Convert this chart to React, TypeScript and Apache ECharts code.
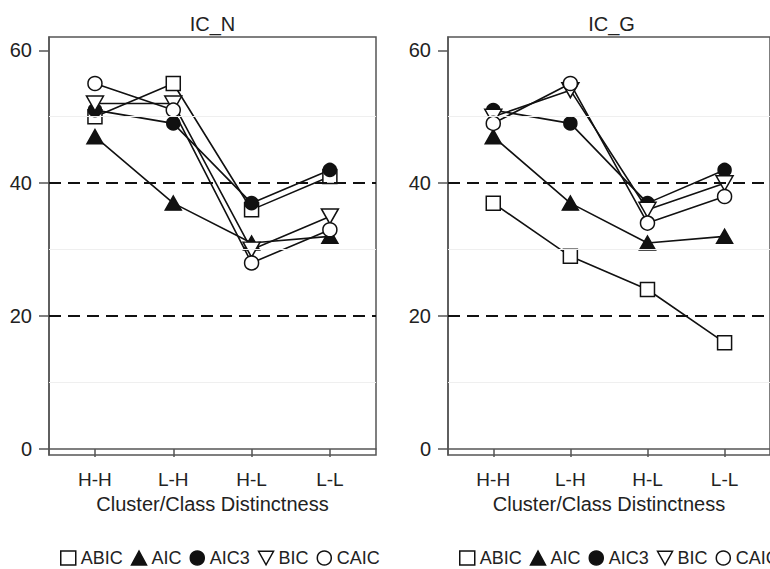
import React, { useEffect, useRef } from "react";
import * as echarts from "echarts";

const categories = ["H-H", "L-H", "H-L", "L-L"];
const seriesNames = ["ABIC", "AIC", "AIC3", "BIC", "CAIC"];
const panelTitles = ["IC_N", "IC_G"];
const yTicks = [0, 20, 40, 60];
const dashedRefs = [20, 40];
const faintRefs = [10, 30, 50];

// IC_N panel
const icnABIC = [50, 55, 36, 41];
const icnAIC = [47, 37, 31, 32];
const icnAIC3 = [51, 49, 37, 42];
const icnBIC = [52, 52, 30, 35];
const icnCAIC = [55, 51, 28, 33];

// IC_G panel
const icgABIC = [37, 29, 24, 16];
const icgAIC = [47, 37, 31, 32];
const icgAIC3 = [51, 49, 37, 42];
const icgBIC = [50, 54, 36, 40];
const icgCAIC = [49, 55, 34, 38];

const panelData = [
  [icnABIC, icnAIC, icnAIC3, icnBIC, icnCAIC],
  [icgABIC, icgAIC, icgAIC3, icgBIC, icgCAIC],
];

const FONT = "'Liberation Sans', Arial, Helvetica, sans-serif";
const INK = "#111";
const AXIS = "#555";
const INV_TRI = "path://M0,0L20,0L10,18Z";

const symbolStyles = [
  { symbol: "rect", size: [14, 14], fill: "#fff" },
  { symbol: "triangle", size: [16, 14], fill: INK },
  { symbol: "circle", size: 13, fill: INK },
  { symbol: INV_TRI, size: [17, 15], fill: "#fff" },
  { symbol: "circle", size: 14, fill: "#fff" },
];
const legendIcons = ["rect", "triangle", "circle", INV_TRI, "circle"];

const GRID_LEFTS = [49, 448];
const GRID_TOP = 37;
const GRID_W = 327;
const GRID_H = 418;

export default function App() {
  const ref = useRef<HTMLDivElement>(null);

  useEffect(() => {
    if (!ref.current) return;
    const chart = echarts.init(ref.current, null, { renderer: "svg" });

    const grids = GRID_LEFTS.map((left) => ({
      left,
      top: GRID_TOP,
      width: GRID_W,
      height: GRID_H,
      show: true,
      borderColor: AXIS,
      borderWidth: 1.5,
      backgroundColor: "transparent",
    }));

    const xAxes = GRID_LEFTS.map((_, gi) => ({
      type: "value",
      gridIndex: gi,
      min: 0.413,
      max: 4.589,
      name: "Cluster/Class Distinctness",
      nameLocation: "middle",
      nameGap: 37,
      nameTextStyle: { fontSize: 20, color: "#222", fontFamily: FONT },
      axisLine: { show: true, lineStyle: { color: AXIS, width: 1.5 } },
      axisTick: {
        show: true,
        length: 8,
        lineStyle: { color: AXIS, width: 1.5 },
        customValues: [1, 2, 3, 4],
      },
      axisLabel: {
        fontSize: 19,
        color: "#222",
        fontFamily: FONT,
        margin: 15,
        customValues: [1, 2, 3, 4],
        formatter: (v: number) => categories[Math.round(v) - 1] ?? "",
      },
      splitLine: { show: false },
    }));

    const yAxes = GRID_LEFTS.map((_, gi) => ({
      type: "value",
      gridIndex: gi,
      min: -0.9,
      max: 62,
      axisLine: { show: true, lineStyle: { color: AXIS, width: 1.5 } },
      axisTick: {
        show: true,
        length: 10,
        lineStyle: { color: AXIS, width: 1.5 },
        customValues: yTicks,
      },
      axisLabel: {
        fontSize: 20,
        color: "#222",
        fontFamily: FONT,
        margin: 17,
        customValues: yTicks,
      },
      splitLine: { show: false },
    }));

    const series: any[] = [];
    panelData.forEach((panel, gi) => {
      series.push({
        type: "line",
        name: "__ref" + gi,
        xAxisIndex: gi,
        yAxisIndex: gi,
        data: [],
        z: 1,
        silent: true,
        markLine: {
          silent: true,
          symbol: ["none", "none"],
          label: { show: false },
          data: [
            ...faintRefs.map((v) => ({
              yAxis: v,
              lineStyle: { color: "#efefef", type: "solid", width: 1 },
            })),
            ...dashedRefs.map((v) => ({
              yAxis: v,
              lineStyle: { color: INK, type: [12, 7], width: 2 },
            })),
          ],
        },
      });
      panel.forEach((vals, si) => {
        const st = symbolStyles[si];
        series.push({
          type: "line",
          name: seriesNames[si],
          xAxisIndex: gi,
          yAxisIndex: gi,
          data: vals.map((v, i) => [i + 1, v]),
          symbol: st.symbol,
          symbolSize: st.size,
          showAllSymbol: true,
          lineStyle: { color: INK, width: 1.6 },
          itemStyle: { color: st.fill, borderColor: INK, borderWidth: 1.5, opacity: 1 },
          z: 3,
        });
      });
    });

    const legendData = seriesNames.map((n, i) => ({
      name: n,
      icon: legendIcons[i],
      itemStyle: {
        color: symbolStyles[i].fill,
        borderColor: INK,
        borderWidth: 1.5,
      },
    }));

    const legends = [60, 459].map((left) => ({
      left,
      top: 549,
      width: 420,
      padding: 0,
      orient: "horizontal",
      itemWidth: 15,
      itemHeight: 14,
      itemGap: 8,
      selectedMode: false,
      textStyle: { fontSize: 18, color: "#222", fontFamily: FONT },
      data: legendData,
    }));

    chart.setOption({
      animation: false,
      backgroundColor: "#fff",
      textStyle: { fontFamily: FONT },
      grid: grids,
      xAxis: xAxes,
      yAxis: yAxes,
      legend: legends,
      series,
      graphic: panelTitles.map((t, gi) => ({
        type: "text",
        x: GRID_LEFTS[gi] + GRID_W / 2,
        y: 24,
        style: {
          text: t,
          fontSize: 20,
          fill: "#222",
          fontFamily: FONT,
          align: "center",
          verticalAlign: "middle",
        },
      })),
    });

    return () => chart.dispose();
  }, []);

  return (
    <div
      ref={ref}
      style={{ position: "absolute", left: 0, top: 0, width: 770, height: 569 }}
    />
  );
}
